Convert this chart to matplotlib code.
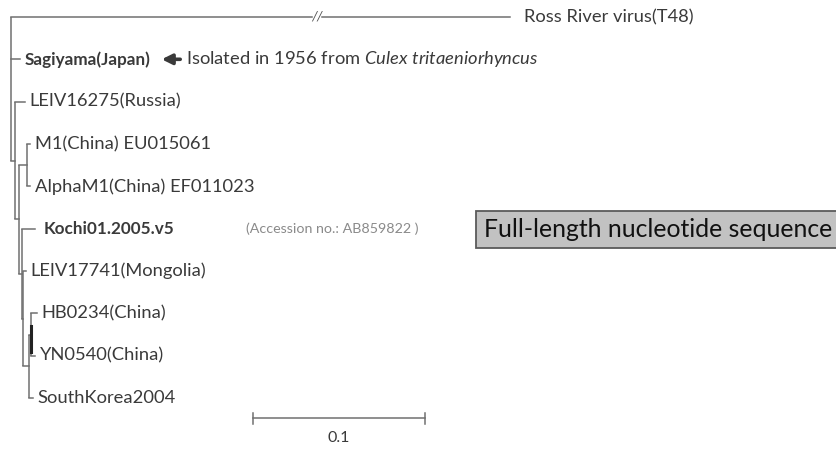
import numpy as np
import matplotlib
matplotlib.use("Agg")
import matplotlib.pyplot as plt
from matplotlib.patches import Rectangle

plt.rcParams["font.family"] = ["Lato", "DejaVu Sans"]
plt.rcParams["mathtext.fontset"] = "custom"
plt.rcParams["mathtext.rm"] = "Lato"
plt.rcParams["mathtext.it"] = "Lato:italic"

###########################################################################
# Tree data (branch lengths in substitutions/site, rows top to bottom)
###########################################################################

tip_names = ["Ross River virus(T48)", "Sagiyama(Japan)", "LEIV16275(Russia)",
             "M1(China) EU015061", "AlphaM1(China) EF011023", "Kochi01.2005.v5",
             "LEIV17741(Mongolia)", "HB0234(China)", "YN0540(China)",
             "SouthKorea2004"]
tip_depth = [0.290, 0.0052, 0.0081, 0.0110, 0.0110, 0.0140,
             0.0087, 0.0150, 0.0140, 0.0128]
tip_bold = [False, True, False, False, False, True, False, False, False, False]

# internal nodes: (children, depth); tips are 0..9, nodes 10..
node_children = [[3, 4], [7, 8], [11, 9], [6, 12], [5, 13], [10, 14], [2, 15], [0, 1, 16]]
node_depth = [0.0093, 0.0116, 0.0102, 0.0070, 0.0064, 0.0047, 0.0023, 0.0]

scale_len = 0.1
scale_label = "0.1"

###########################################################################
# Figure
###########################################################################

fig = plt.figure(figsize=(8.37, 4.71), dpi=100)
ax = fig.add_axes([0, 0, 1, 1])
ax.set_xlim(-11 / 1720, 826 / 1720)
ax.set_ylim(10.72, -0.40)
ax.axis("off")

lc = "#707070"
tc = "#3a3a3a"
n_tips = len(tip_names)
ypos = {i: float(i) for i in range(n_tips)}
xpos = {i: tip_depth[i] for i in range(n_tips)}

for k, (kids, d) in enumerate(zip(node_children, node_depth)):
    nid = n_tips + k
    xpos[nid] = d
    ys = [ypos[c] for c in kids]
    ypos[nid] = (min(ys) + max(ys)) / 2
    ax.plot([d, d], [min(ys), max(ys)], color=lc, lw=1.1, solid_capstyle="butt")
    for c in kids:
        if c == 0:
            continue
        ax.plot([d, xpos[c]], [ypos[c], ypos[c]], color=lc, lw=1.1)

# long broken branch to Ross River
brk = 0.178
ax.plot([0, brk - 0.003], [0, 0], color=lc, lw=1.1)
ax.plot([brk + 0.003, tip_depth[0]], [0, 0], color=lc, lw=1.1)
ax.text(brk, 0, "//", ha="center", va="center", fontsize=10, color="#555555",
        style="italic")

# thicker stem on HB/YN clade
ax.plot([0.0118, 0.0118], [7.3, 7.9], color="#222222", lw=2.2)

for i, name in enumerate(tip_names):
    gap = 0.0085 if i == 0 else 0.0028
    if i == 5:
        gap = 0.005
    ax.text(tip_depth[i] + gap, i, name, ha="left", va="center",
            fontsize=12.3 if tip_bold[i] else 13.2,
            fontweight="bold" if tip_bold[i] else "normal",
            color=tc)

# note for Sagiyama
ax.annotate("", xy=(0.0860, 1), xytext=(0.1000, 1),
            arrowprops=dict(arrowstyle="-|>,head_length=0.6,head_width=0.3",
                            color=tc, lw=2.6))
ax.text(0.1020, 1, r"Isolated in 1956 from $\it{Culex\ tritaeniorhyncus}$",
        ha="left", va="center", fontsize=13.2, color=tc)

ax.text(0.1365, 5, "(Accession no.: AB859822 )", ha="left", va="center",
        fontsize=10.3, color="#8a8a8a")

# label box
box = Rectangle((0.2703, 4.58), 0.22, 0.88, facecolor="#c2c2c2",
                edgecolor="#5a5a5a", lw=1.3)
ax.add_patch(box)
ax.text(0.2750, 5.02, "Full-length nucleotide sequence", ha="left", va="center",
        fontsize=17.8, color="#111111")

# scale bar
sx0 = 0.1407
sy = 9.47
ax.plot([sx0, sx0 + scale_len], [sy, sy], color=lc, lw=1.1)
ax.plot([sx0, sx0], [sy - 0.13, sy + 0.13], color=lc, lw=1.1)
ax.plot([sx0 + scale_len, sx0 + scale_len], [sy - 0.13, sy + 0.13], color=lc, lw=1.1)
ax.text(sx0 + scale_len / 2, 9.95, scale_label, ha="center", va="center",
        fontsize=11.5, color=tc)

fig.savefig("out.png", dpi=100)
